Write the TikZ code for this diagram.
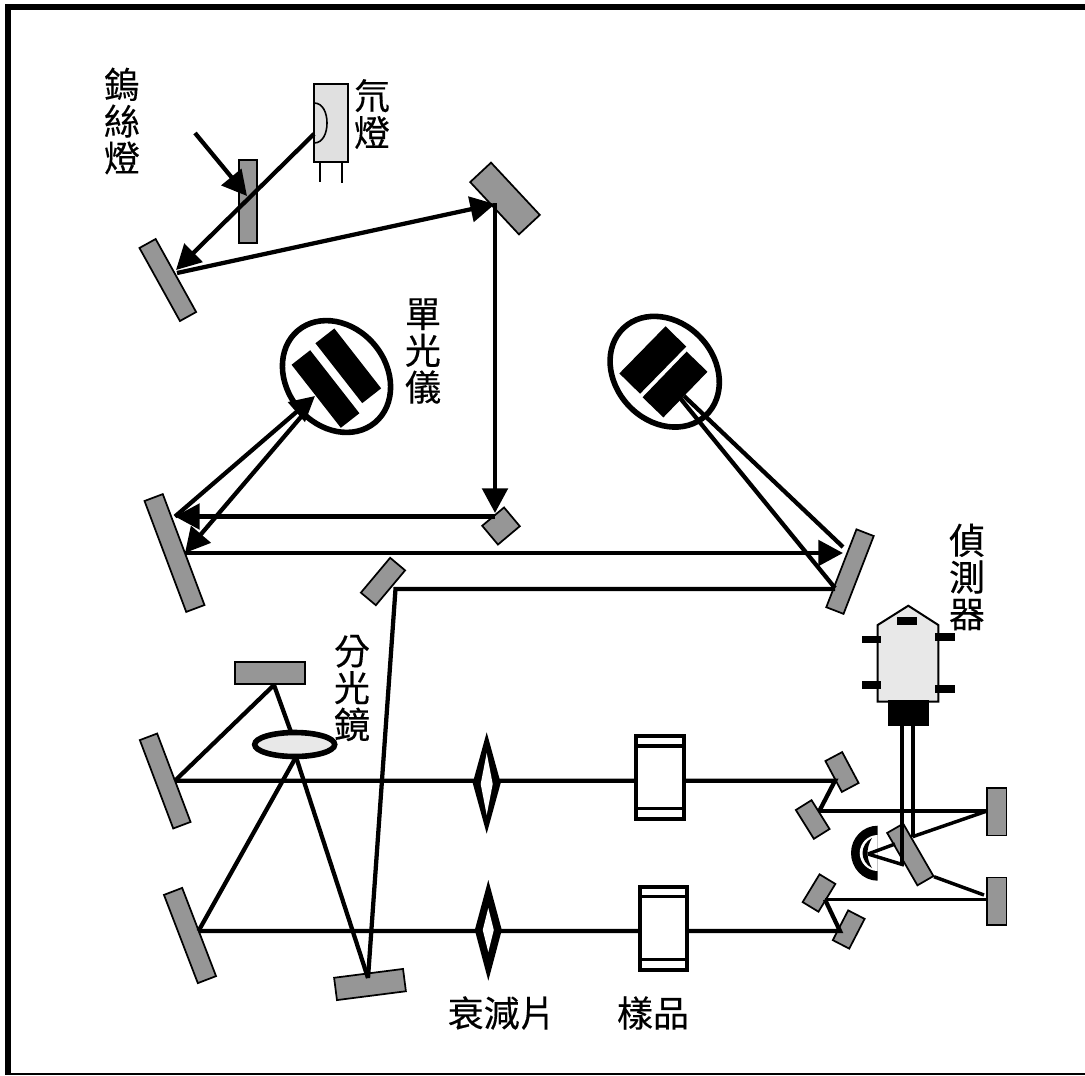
\documentclass[tikz,border=0pt]{standalone}
\usepackage{fontspec}
\usetikzlibrary{arrows.meta,shapes.geometric}
\newfontfamily\cjk[FakeBold=0.3]{Noto Sans CJK TC}
\definecolor{mirrorgray}{HTML}{969696}
\definecolor{lampgray}{HTML}{E0E0E0}
\definecolor{bodygray}{HTML}{E8E8E8}
\tikzset{
  mirror/.style n args={3}{draw=black, fill=mirrorgray, line width=1.3pt, inner sep=0pt, outer sep=0pt,
    minimum width={(#1-1.5)*0.75pt}, minimum height={(#2-1.5)*0.75pt}, rotate=#3},
  plate/.style n args={3}{fill=black, inner sep=0pt, outer sep=0pt,
    minimum width={#1*0.75pt}, minimum height={#2*0.75pt}, rotate=#3},
  ring/.style n args={3}{ellipse, draw=black, line width=4.2pt, inner sep=0pt, outer sep=0pt,
    minimum width={#1*0.75pt}, minimum height={#2*0.75pt}, rotate=#3},
  cell/.style={draw=black, fill=white, line width=3pt, inner sep=0pt, outer sep=0pt,
    minimum width=35.5pt, minimum height=62pt},
  beam/.style={line width=3.2pt},
  thinbeam/.style={line width=2.6pt},
  ray/.style={line width=3.2pt, -{Triangle[length=18.5pt,width=19pt]}},
  cjklabel/.style={font=\cjk\fontsize{27}{27.6}\selectfont, align=center, inner sep=0pt}
}
\begin{document}
\begin{tikzpicture}[x=0.75pt,y=-0.75pt]
  \useasboundingbox (0,0) rectangle (1085,1075);

  % Frame
  \fill (5,4) rectangle (1085,10);
  \fill (5,4) rectangle (11,1075);
  \draw[line width=1.2pt] (5,1074.2) -- (1085,1074.2);

  % Deuterium lamp
  \draw[line width=1.2pt, fill=lampgray] (314,84) rectangle (348,162);
  \draw[line width=1.2pt] (314,103) .. controls (323,103) and (327,113) .. (327,123)
    .. controls (327,133) and (323,143) .. (314,143);
  \draw[line width=1.2pt] (320,162) -- (320,182);
  \draw[line width=1.2pt] (342,162) -- (342,183);

  % Mirrors, upper part
  \node[mirror={20}{85}{0}] (filter) at (248,201.5) {};
  \node[mirror={85}{20}{-61}] (mirrorA) at (167.8,280) {};
  \node[mirror={73}{30}{-47}] (mirrorB) at (505,198.5) {};
  \node[mirror={30}{26}{40}] (mirrorC) at (501,526) {};
  \node[mirror={120}{21}{-69.4}] (mirrorD) at (174.5,553) {};
  \node[mirror={47}{21}{50}] (mirrorE) at (383,581.5) {};
  \node[mirror={85}{20}{68.8}] (mirrorF) at (850,571.6) {};

  % Mirrors, lower part
  \node[mirror={71}{24}{0}] (mirrorG) at (270,673) {};
  \node[mirror={96}{20}{-69.3}] (mirrorH) at (165.2,781) {};
  \node[mirror={96}{21}{-69}] (mirrorI) at (190,935.5) {};
  \node[mirror={71}{24}{7.3}] (mirrorJ) at (370,984.5) {};
  \node[mirror={36.5}{20.5}{-62}] (mirrorK) at (842,772) {};
  \node[mirror={35.5}{20}{-58}] (mirrorL) at (812.7,819.5) {};
  \node[mirror={34}{20}{58.7}] (mirrorM) at (819,893) {};
  \node[mirror={35}{20}{62.7}] (mirrorN) at (848.7,929.5) {};
  \node[mirror={21}{49}{0}] (blockA) at (996.7,811.7) {};
  \node[mirror={21}{49}{0}] (blockB) at (996.7,901.2) {};
  \node[mirror={62}{20}{-60}] (mirrorP) at (910.3,854.5) {};

  % Gratings
  \node[ring={120}{99}{-50}] (ringA) at (336.5,376.5) {};
  \node[ring={120}{99}{-47}] (ringB) at (664.7,371.7) {};
  \node[plate={80}{23.6}{-52}] (gratA) at (325.5,389) {};
  \node[plate={76}{24}{-52}] (gratB) at (348.3,365.8) {};
  \node[plate={66}{29}{45.6}] (gratC) at (652.8,360) {};
  \node[plate={63.5}{29}{46}] (gratD) at (675,384.5) {};

  % Beam points
  \coordinate (lampout) at (314,134);
  \coordinate (hit) at (176,270);
  \coordinate (hitB) at (177,273);
  \coordinate (topturn) at (495,204);
  \coordinate (gratin) at (315,396);
  \coordinate (gratout) at (306,411);
  \coordinate (lowhit) at (175,516.5);
  \coordinate (lowhitB) at (185,553);
  \coordinate (smallhit) at (495,516.5);
  \coordinate (smalltip) at (495,513);
  \coordinate (righttip) at (843,553);
  \coordinate (grateB) at (684,396);
  \coordinate (grateC) at (680,398);
  \coordinate (rightA) at (843,547);
  \coordinate (rightB) at (835,588);
  \coordinate (corner) at (395.5,589);
  \coordinate (floorhit) at (368,978);
  \coordinate (splitup) at (291,732);
  \coordinate (splitdown) at (296,757);
  \coordinate (topmid) at (274,685);
  \coordinate (lineA) at (175,780.7);
  \coordinate (lineB) at (198.5,931);
  \coordinate (kneeA) at (835,780.7);
  \coordinate (kneeB) at (819.3,811);
  \coordinate (kneeC) at (840,931);
  \coordinate (kneeD) at (825,899.5);
  \coordinate (farA) at (987,811);
  \coordinate (farB) at (987,899.5);
  \coordinate (farC) at (984,895);
  \coordinate (backA) at (912.5,836.7);
  \coordinate (backB) at (934,876.7);
  \coordinate (focus) at (868,854);
  \coordinate (focusA) at (895,844);
  \coordinate (focusB) at (904,865);
  \coordinate (detA) at (901.7,725);
  \coordinate (detB) at (913.3,725);
  \coordinate (detC) at (901.7,864);
  \coordinate (detD) at (913.3,837);

  % Beams
  \draw[ray] (195,133) -- (247,196);
  \draw[ray] (lampout) -- (hit);
  \draw[ray] (hitB) -- (topturn);
  \draw[ray] (495,203) -- (smalltip);
  \draw[ray] (smallhit) -- (lowhit);
  \draw[ray] (lowhit) -- (gratin);
  \draw[ray] (gratout) -- (lowhitB);
  \draw[ray] (lowhitB) -- (righttip);
  \draw[beam] (grateB) -- (rightA);
  \draw[beam] (grateC) -- (rightB);
  \draw[beam, miter limit=10] (rightB |- corner) -- (corner) -- (floorhit);
  \draw[beam] (lineA) -- (topmid);
  \draw[beam] (topmid) -- (splitup);
  \draw[beam] (splitdown) -- (lineB);
  \draw[beam] (splitdown) -- (floorhit);
  \draw[beam] (lineA) -- (kneeA) -- (kneeB);
  \draw[thinbeam] (kneeB) -- (farA);
  \draw[beam] (lineB) -- (kneeC) -- (kneeD);
  \draw[thinbeam] (kneeD) -- (farB);
  \draw[thinbeam] (farA) -- (backA);
  \draw[thinbeam] (farC) -- (backB);
  \draw[beam] (detA) -- (detC);
  \draw[beam] (detB) -- (detD);

  % Beam splitter
  \node[ring={80}{24}{0}, fill=bodygray] (split) at (294.7,744.5) {};

  % Attenuators
  \fill (472.7,783) -- (486.7,732.3) -- (500.7,783) -- (486.7,833.7) -- cycle;
  \fill[white] (480.7,784) -- (486.7,753) -- (492.7,784) -- (486.7,815) -- cycle;
  \fill (474.8,930) -- (488.3,880) -- (501.8,930) -- (488.3,980.7) -- cycle;
  \fill[white] (482.8,930) -- (488.3,908) -- (493.8,930) -- (488.3,952) -- cycle;

  % Sample cells
  \node[cell] (cellA) at (660,777.3) {};
  \draw[line width=2.6pt] (cellA.west |- 0,746) -- (cellA.east |- 0,746);
  \draw[line width=2.6pt] (cellA.west |- 0,808.7) -- (cellA.east |- 0,808.7);
  \node[cell] (cellB) at (663.3,928.3) {};
  \draw[line width=2.6pt] (cellB.west |- 0,896.7) -- (cellB.east |- 0,896.7);
  \draw[line width=2.6pt] (cellB.west |- 0,959.3) -- (cellB.east |- 0,959.3);

  % Detector
  \draw[line width=1.5pt, fill=bodygray] (877.7,625) -- (908.3,605.7) -- (938.3,625)
    -- (938.3,701.7) -- (877.7,701.7) -- cycle;
  \fill (896.7,617.3) rectangle (916.7,625);
  \fill (861.7,635.7) rectangle (881,642.7);
  \fill (861.7,681.3) rectangle (881,689);
  \fill (935,632.7) rectangle (955,640.7);
  \fill (935,685.3) rectangle (955,692.7);
  \fill (887.7,700) rectangle (929,725.7);

  % Concave mirror
  \fill (877.7,825.7) .. controls (862.8,825.7) and (851,838) .. (851,853)
    .. controls (851,868) and (862.8,880.7) .. (877.7,880.7) -- cycle;
  \fill[white] (877.7,835) .. controls (868,835) and (859.7,843) .. (859.7,853)
    .. controls (859.7,863) and (868,871) .. (877.7,871) -- cycle;
  \fill (872,838) .. controls (866,841) and (862.5,847) .. (862.5,853)
    .. controls (862.5,859) and (866,865) .. (872,868)
    .. controls (869,863) and (867.5,858) .. (867.5,853)
    .. controls (867.5,848) and (869,843) .. (872,838) -- cycle;
  \draw[thinbeam] (focus) -- (focusA);
  \draw[thinbeam] (focus) -- (focusB);

  % Labels
  \node[cjklabel] (tungsten) at (122,121) {鎢\\絲\\燈};
  \node[cjklabel] (deuterium) at (372,114) {氘\\燈};
  \node[cjklabel] (mono) at (423,351) {單\\光\\儀};
  \node[cjklabel] (splitter) at (352,688) {分\\光\\鏡};
  \node[cjklabel] (detector) at (967,577) {偵\\測\\器};
  \node[cjklabel] (atten) at (501.7,1013) {衰減片};
  \node[cjklabel] (sample) at (653,1013) {樣品};
\end{tikzpicture}
\end{document}
